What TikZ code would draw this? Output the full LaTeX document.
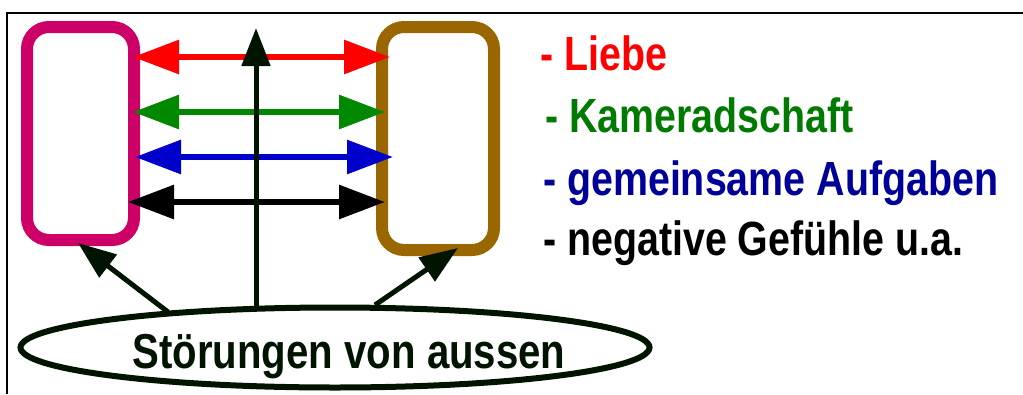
\documentclass[tikz,border=0pt]{standalone}
\usepackage{fontspec}
\setmainfont{Liberation Sans}[FakeStretch=0.82]
\usetikzlibrary{arrows.meta,shapes.geometric}
\definecolor{cmag}{HTML}{CC0066}
\definecolor{cbrown}{HTML}{996600}
\definecolor{cred}{HTML}{FF0000}
\definecolor{cgreen}{HTML}{008800}
\definecolor{cblue}{HTML}{0000CC}
\definecolor{tgreen}{HTML}{007A00}
\definecolor{tblue}{HTML}{000099}
\definecolor{cdark}{HTML}{001400}
\tikzset{
  person/.style={draw, line width=12pt, rounded corners=22pt, inner sep=0pt},
  bond/.style={line width=6pt, {Triangle[length=46pt,width=33pt]}-{Triangle[length=46pt,width=33pt]}},
  push/.style={line width=5pt, color=cdark, -{Triangle[length=38pt,width=28pt]}},
  label/.style={anchor=base west, inner sep=0pt, font=\fontsize{48}{52}\selectfont\bfseries},
}
\begin{document}
\begin{tikzpicture}[x=1pt,y=-1pt]
\useasboundingbox (0,0) rectangle (1023,394);
% frame
\draw[line width=2pt] (7,394) -- (7,13) -- (1023,13);
% persons
\node[person, draw=cmag, minimum width=107pt, minimum height=213pt] (L) at (80.5,133.5) {};
\node[person, draw=cbrown, minimum width=112pt, minimum height=223pt] (R) at (438,138.5) {};
% outside
\node[draw=cdark, ellipse, line width=6pt, minimum width=629pt, minimum height=80pt, inner sep=0pt] (E) at (335,347.5) {};
\node[anchor=base, inner sep=0pt, text=cdark, font=\fontsize{49}{52}\selectfont\bfseries] (T) at (349,368) {Störungen von aussen};
% bond end points
\coordinate (r1) at (133,57);  \coordinate (r2) at (390,57);
\coordinate (g1) at (133,112); \coordinate (g2) at (385,112);
\coordinate (b1) at (135,157); \coordinate (b2) at (393,157);
\coordinate (k1) at (128,202); \coordinate (k2) at (385,202);
\draw[bond, cred] (r1) -- (r2);
\draw[bond, cgreen] (g1) -- (g2);
\draw[bond, cblue] (b1) -- (b2);
\draw[bond, black] (k1) -- (k2);
% disturbances
\coordinate (e1) at (168,312); \coordinate (t1) at (78,243);
\coordinate (e2) at (256,307); \coordinate (t2) at (256,28);
\coordinate (e3) at (375,305); \coordinate (t3) at (458,248);
\draw[push] (e1) -- (t1);
\draw[push] (e2) -- (t2);
\draw[push] (e3) -- (t3);
% legend
\node[label, text=cred] (l1) at (540,70) {- Liebe};
\node[label, text=tgreen] (l2) at (545,132) {- Kameradschaft};
\node[label, text=tblue] (l3) at (543,195) {- gemeinsame Aufgaben};
\node[label, text=black] (l4) at (543,255) {- negative Gefühle u.a.};
\end{tikzpicture}
\end{document}
